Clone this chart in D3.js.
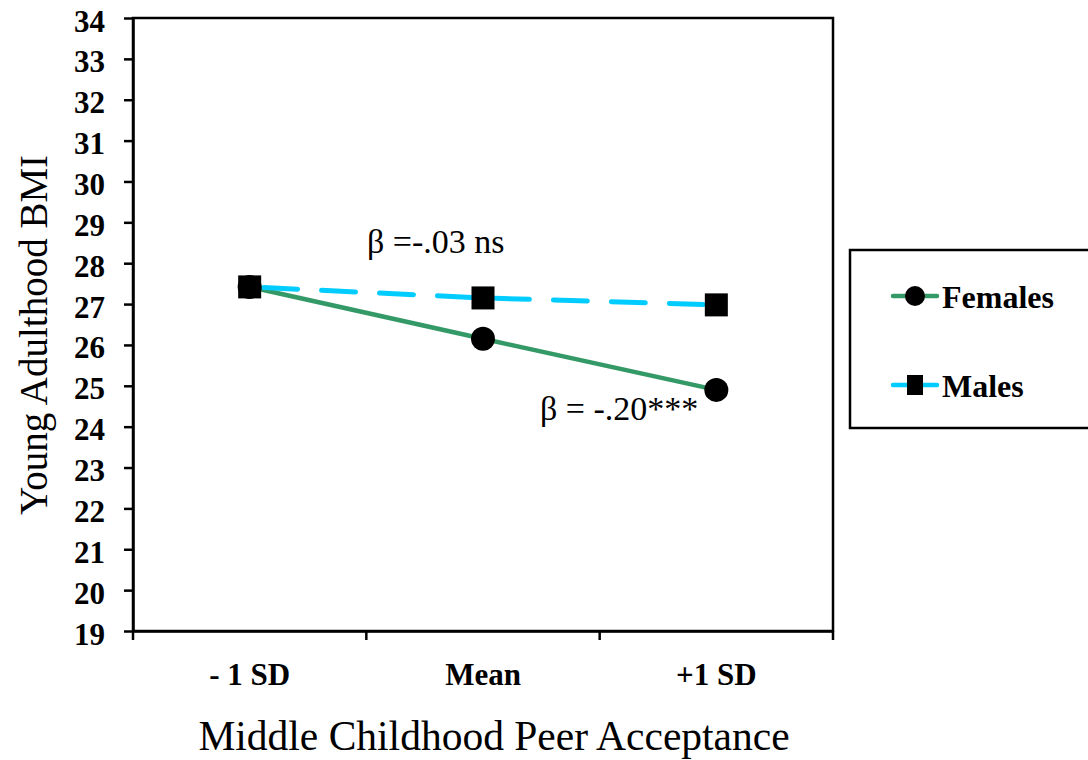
<!DOCTYPE html>
<html lang="en">
<head>
  <meta charset="UTF-8" />
  <title>Young Adulthood BMI by Peer Acceptance</title>
  <script src="https://d3js.org/d3.v7.min.js"></script>
  <style>
    body {
      margin: 0;
      padding: 0;
      background: #fff;
    }
    svg {
      display: block;
    }
    .axis path,
    .axis line {
      stroke: #000;
      stroke-width: 2.5px;
    }
  </style>
</head>
<body>
  <svg width="1088" height="760"></svg>

  <script>
    const categories = ["- 1 SD", "Mean", "+1 SD"];
    const females = [27.42, 26.15, 24.9];
    const males = [27.42, 27.15, 26.98];
    const yTicks = d3.range(19, 35);

    const serif = "'Liberation Serif', 'Times New Roman', Times, serif";

    const svg = d3.select("svg");
    const plotL = 133, plotR = 833, plotT = 18, plotB = 631;

    const x = d3.scaleBand().domain(categories).range([plotL, plotR]);
    const y = d3.scaleLinear().domain([19, 34]).range([plotB, plotT]);

    // frame
    svg.append("rect")
      .attr("x", plotL).attr("y", plotT)
      .attr("width", plotR - plotL).attr("height", plotB - plotT)
      .attr("fill", "none").attr("stroke", "#000").attr("stroke-width", 2.5);

    function styleTicks(size) {
      return (g) => {
        g.attr("font-family", null).attr("font-size", null);
        g.selectAll("text")
          .style("font-family", serif)
          .style("font-weight", "bold")
          .style("font-size", size + "px")
          .attr("fill", "#000");
      };
    }

    // y axis
    svg.append("g")
      .attr("class", "axis")
      .attr("transform", `translate(${plotL},0)`)
      .call(d3.axisLeft(y).tickValues(yTicks).tickSize(9).tickSizeOuter(0).tickPadding(19))
      .call(styleTicks(31))
      .selectAll("text").attr("dy", "0.42em");

    // x axis, ticks sit at the band edges
    const xAxis = svg.append("g")
      .attr("class", "axis")
      .attr("transform", `translate(0,${plotB})`)
      .call(d3.axisBottom(x).tickSize(0).tickSizeOuter(0).tickPadding(32))
      .call(styleTicks(31));

    const edges = categories.map((c) => x(c)).concat([plotR]);
    xAxis.selectAll(".edge")
      .data(edges)
      .enter()
      .append("line")
      .attr("class", "edge")
      .attr("x1", (d) => d).attr("x2", (d) => d)
      .attr("y1", 0).attr("y2", 9);

    function txt(xp, yp, s, size, weight) {
      return svg.append("text")
        .attr("x", xp).attr("y", yp)
        .style("font-family", serif)
        .style("font-size", size + "px")
        .style("font-weight", weight || "normal")
        .text(s);
    }

    // axis titles
    txt(0, 0, "Young Adulthood BMI", 39)
      .attr("transform", "translate(47,335) rotate(-90)")
      .attr("text-anchor", "middle");

    txt(494, 750, "Middle Childhood Peer Acceptance", 41.5)
      .attr("text-anchor", "middle");

    const cx = (i) => x(categories[i]) + x.bandwidth() / 2;
    const line = d3.line().x((d, i) => cx(i)).y((d) => y(d));

    // female line
    svg.append("path")
      .datum(females)
      .attr("d", line)
      .attr("fill", "none")
      .attr("stroke", "#339966")
      .attr("stroke-width", 4.5);

    // male line
    svg.append("path")
      .datum(males)
      .attr("d", line)
      .attr("fill", "none")
      .attr("stroke", "#00ccff")
      .attr("stroke-width", 5)
      .attr("stroke-linecap", "round")
      .attr("stroke-dasharray", "34,24")
      .attr("stroke-dashoffset", -14);

    svg.selectAll(".fem")
      .data(females)
      .enter()
      .append("circle")
      .attr("class", "fem")
      .attr("cx", (d, i) => cx(i))
      .attr("cy", (d) => y(d))
      .attr("r", 12)
      .attr("fill", "#000");

    svg.selectAll(".mal")
      .data(males)
      .enter()
      .append("rect")
      .attr("class", "mal")
      .attr("x", (d, i) => cx(i) - 11.5)
      .attr("y", (d) => y(d) - 11.5)
      .attr("width", 23)
      .attr("height", 23)
      .attr("fill", "#000");

    // annotations
    txt(367, 253, "β =-.03 ns", 34);
    txt(540, 420, "β = -.20***", 34);

    // legend
    const legend = svg.append("g");
    legend.append("rect")
      .attr("x", 850).attr("y", 250)
      .attr("width", 245).attr("height", 178)
      .attr("fill", "#fff").attr("stroke", "#000").attr("stroke-width", 2.5);

    const items = [
      { name: "Females", color: "#339966", shape: "circle", y: 296 },
      { name: "Males", color: "#00ccff", shape: "square", y: 385 }
    ];

    items.forEach((it) => {
      legend.append("line")
        .attr("x1", 893).attr("x2", 937)
        .attr("y1", it.y).attr("y2", it.y)
        .attr("stroke", it.color).attr("stroke-width", 4.5)
        .attr("stroke-linecap", "round");
      if (it.shape === "circle") {
        legend.append("circle")
          .attr("cx", 915).attr("cy", it.y).attr("r", 10).attr("fill", "#000");
      } else {
        legend.append("rect")
          .attr("x", 907).attr("y", it.y - 10)
          .attr("width", 16).attr("height", 20).attr("fill", "#000");
      }
      txt(942, it.y + 12, it.name, 32, "bold");
    });
  </script>
</body>
</html>
